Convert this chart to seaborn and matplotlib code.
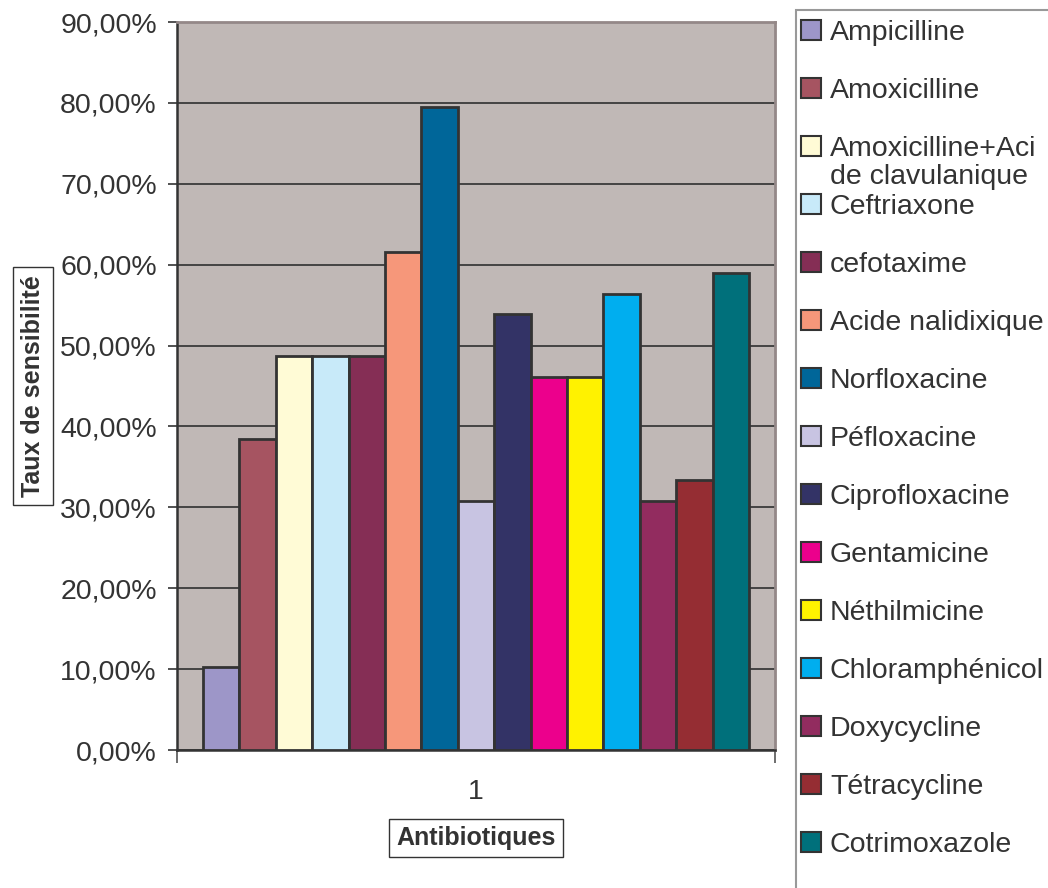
import pandas as pd
import matplotlib
matplotlib.use("Agg")
import matplotlib.pyplot as plt
import seaborn as sns
from matplotlib.ticker import FuncFormatter, FixedLocator
from matplotlib.patches import Patch, Rectangle

# Data
antibiotiques = [
    "Ampicilline", "Amoxicilline", "Amoxicilline+Aci\nde clavulanique",
    "Ceftriaxone", "cefotaxime", "Acide nalidixique", "Norfloxacine",
    "Péfloxacine", "Ciprofloxacine", "Gentamicine", "Néthilmicine",
    "Chloramphénicol", "Doxycycline", "Tétracycline", "Cotrimoxazole",
]
taux = [0.1026, 0.3846, 0.4872, 0.4872, 0.4872, 0.6154, 0.7949,
        0.3077, 0.5385, 0.4615, 0.4615, 0.5641, 0.3077, 0.3333, 0.5897]
groupe = ["1"] * len(antibiotiques)
couleurs = ["#9D96C8", "#A65461", "#FFFBD6", "#C8EAF9", "#852E55",
            "#F6977A", "#006699", "#C8C4E2", "#333366", "#EC008C",
            "#FFF200", "#00AEEF", "#922C5F", "#952D33", "#00707B"]

df = pd.DataFrame({"groupe": groupe, "antibiotique": antibiotiques, "taux": taux})

sns.set_style("white")
plt.rcParams["font.family"] = ["Liberation Sans", "DejaVu Sans"]
txt = "#333333"

fig = plt.figure(figsize=(10.48, 8.88), dpi=100)
ax = fig.add_axes([177 / 1048, 1 - 750 / 888, 598 / 1048, 728 / 888])
ax.set_facecolor("#C0B8B6")

sns.barplot(data=df, x="groupe", y="taux", hue="antibiotique",
            palette=couleurs, width=0.913, edgecolor="#333333",
            linewidth=2, saturation=1, legend=False, ax=ax, zorder=3)

ax.set_xlim(-0.5, 0.5)
ax.set_ylim(0, 0.9)
ax.set_yticks([i / 10 for i in range(10)])
ax.yaxis.set_major_formatter(FuncFormatter(lambda v, p: f"{v * 100:.2f}%".replace(".", ",")))
ax.grid(axis="y", color="#3a3a3a", linewidth=1.3, zorder=1)
ax.set_axisbelow(True)

ax.tick_params(axis="y", direction="out", length=6.5, width=1.2, color="#333333",
               labelsize=20.5, labelcolor=txt, pad=8, left=True)
ax.set_xticks([0])
ax.set_xticklabels(["1"])
ax.tick_params(axis="x", which="major", length=0, labelsize=20.5, labelcolor=txt, pad=21)
ax.xaxis.set_minor_locator(FixedLocator([-0.5, 0.5]))
ax.tick_params(axis="x", which="minor", direction="out", length=9, width=1.2,
               color="#555555", bottom=True)

for s in ["top", "right"]:
    ax.spines[s].set_color("#948888")
    ax.spines[s].set_linewidth(2)
for s in ["left", "bottom"]:
    ax.spines[s].set_color("#333333")
    ax.spines[s].set_linewidth(1.8)

ax.set_ylabel("Taux de sensibilité", fontsize=18, fontweight="bold", color=txt,
              bbox=dict(facecolor="white", edgecolor="#333333", linewidth=1, pad=6))
ax.yaxis.set_label_coords(-0.221, 0.5)
ax.set_xlabel("Antibiotiques", fontsize=18, fontweight="bold", color=txt,
              bbox=dict(facecolor="white", edgecolor="#333333", linewidth=1, pad=5))
ax.xaxis.set_label_coords(0.5, -0.104)

# legend box
fig.patches.append(Rectangle((796 / 1048, -0.01), 0.3, 1 - 10 / 888 + 0.01,
                             transform=fig.transFigure, facecolor="white",
                             edgecolor="#999999", linewidth=1.5, zorder=0))
# the long name wraps onto a second line that hangs below its entry
leg_labels = [a.split("\n")[0] for a in antibiotiques]
handles = [Patch(facecolor=c, edgecolor="#333333", linewidth=1.5) for c in couleurs]
leg = fig.legend(handles, leg_labels, loc="upper left",
                 bbox_to_anchor=(798 / 1048, 1 - 17 / 888), frameon=False,
                 fontsize=20.5, labelspacing=1.12, handlelength=0.72,
                 handleheight=0.72, handletextpad=0.3, borderaxespad=0,
                 borderpad=0.1)
for t in leg.get_texts():
    t.set_color(txt)

fig.canvas.draw()
for i, a in enumerate(antibiotiques):
    if "\n" in a:
        bb = leg.get_texts()[i].get_window_extent()
        fig.text(bb.x0 / 1048, (bb.y0 - 22) / 888, a.split("\n")[1],
                 ha="left", va="baseline", fontsize=20.5, color=txt)

fig.savefig("out.png", dpi=100)
